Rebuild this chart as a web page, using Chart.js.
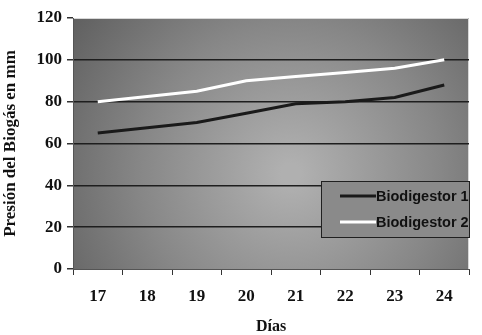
<!DOCTYPE html>
<html>
<head>
<meta charset="utf-8">
<script src="https://cdn.jsdelivr.net/npm/chart.js@4.4.0/dist/chart.umd.min.js"></script>
<style>
  html, body { margin: 0; padding: 0; background: #fff; }
  #wrap { width: 482px; height: 335px; }
</style>
</head>
<body>
<div id="wrap"><canvas id="grafico"></canvas></div>
<script>
const dias = ['17', '18', '19', '20', '21', '22', '23', '24'];
const biodigestor1 = [65, 67.5, 70, 74.5, 79, 80, 82, 88];
const biodigestor2 = [80, 82.5, 85, 90, 92, 94, 96, 100];
const ticksY = [0, 20, 40, 60, 80, 100, 120];

// fondo gris con degradado radial
const fondo = {
    id: 'fondo',
    beforeDraw(chart) {
        const { ctx, chartArea: a } = chart;
        ctx.save();
        const cx = a.left + (a.right - a.left) * 0.55;
        const cy = a.top + (a.bottom - a.top) * 0.62;
        const g = ctx.createRadialGradient(cx, cy, 10, cx, cy, 290);
        g.addColorStop(0, '#b0b0b0');
        g.addColorStop(0.5, '#878787');
        g.addColorStop(1, '#585858');
        ctx.fillStyle = g;
        ctx.fillRect(a.left, a.top, a.right - a.left, a.bottom - a.top);
        ctx.strokeStyle = '#d8d8d8';
        ctx.lineWidth = 1;
        ctx.beginPath();
        ctx.moveTo(a.left, a.top + 0.5);
        ctx.lineTo(a.right - 0.5, a.top + 0.5);
        ctx.lineTo(a.right - 0.5, a.bottom);
        ctx.stroke();
        ctx.restore();
    }
};

// leyenda dentro del area
const leyenda = {
    id: 'leyenda',
    afterDraw(chart) {
        const { ctx } = chart;
        const x = 321, y = 181, w = 148, h = 56;
        ctx.save();
        ctx.fillStyle = '#8a8a8a';
        ctx.fillRect(x, y, w, h);
        ctx.strokeStyle = '#202020';
        ctx.lineWidth = 1;
        ctx.strokeRect(x + 0.5, y + 0.5, w, h);
        ctx.font = 'bold 14.5px "Liberation Sans", Arial, sans-serif';
        ctx.textBaseline = 'middle';
        chart.data.datasets.forEach((ds, i) => {
            const ly = y + 15 + i * 26;
            ctx.strokeStyle = ds.borderColor;
            ctx.lineWidth = 3;
            ctx.beginPath();
            ctx.moveTo(x + 19, ly);
            ctx.lineTo(x + 55, ly);
            ctx.stroke();
            ctx.fillStyle = '#111';
            ctx.fillText(ds.label, x + 55, ly + 1);
        });
        ctx.restore();
    }
};

const fuenteSerif = '"Liberation Serif", "Times New Roman", serif';

new Chart(document.getElementById('grafico'), {
    type: 'line',
    data: {
        labels: dias,
        datasets: [
            {
                label: 'Biodigestor 1',
                data: biodigestor1,
                borderColor: '#1a1a1a',
                borderWidth: 3,
                pointRadius: 0,
                tension: 0
            },
            {
                label: 'Biodigestor 2',
                data: biodigestor2,
                borderColor: '#ffffff',
                borderWidth: 3,
                pointRadius: 0,
                tension: 0
            }
        ]
    },
    options: {
        responsive: true,
        maintainAspectRatio: false,
        animation: false,
        layout: { padding: { top: 18, right: 13, left: 0, bottom: 0 } },
        plugins: {
            legend: { display: false },
            tooltip: { enabled: false }
        },
        scales: {
            x: {
                offset: true,
                afterFit(axis) { axis.height = 66; },
                grid: {
                    display: true,
                    drawOnChartArea: false,
                    offset: true,
                    color: '#333',
                    tickLength: 6
                },
                border: { color: '#555', width: 1 },
                ticks: {
                    color: '#111',
                    padding: 11,
                    font: { family: fuenteSerif, size: 17, weight: 'bold' }
                },
                title: {
                    display: true,
                    text: 'Días',
                    color: '#111',
                    padding: { top: 0, bottom: -1 },
                    font: { family: fuenteSerif, size: 16, weight: 'bold' }
                }
            },
            y: {
                min: 0,
                max: 120,
                afterFit(axis) { axis.width = 73; },
                afterBuildTicks(axis) {
                    axis.ticks = ticksY.map(v => ({ value: v }));
                },
                grid: {
                    color: ctx => (ctx.tick && (ctx.tick.value === 0 || ctx.tick.value === 120)) ? 'rgba(0,0,0,0)' : '#1e1e1e',
                    lineWidth: 1.5,
                    tickColor: '#333',
                    tickLength: 6
                },
                border: { color: '#555', width: 1 },
                ticks: {
                    color: '#111',
                    padding: 5,
                    font: { family: fuenteSerif, size: 17, weight: 'bold' }
                },
                title: {
                    display: true,
                    text: 'Presión del Biogás en mm',
                    color: '#111',
                    padding: { top: 0, bottom: 0 },
                    font: { family: fuenteSerif, size: 17, weight: 'bold' }
                }
            }
        }
    },
    plugins: [fondo, leyenda]
});
</script>
</body>
</html>
